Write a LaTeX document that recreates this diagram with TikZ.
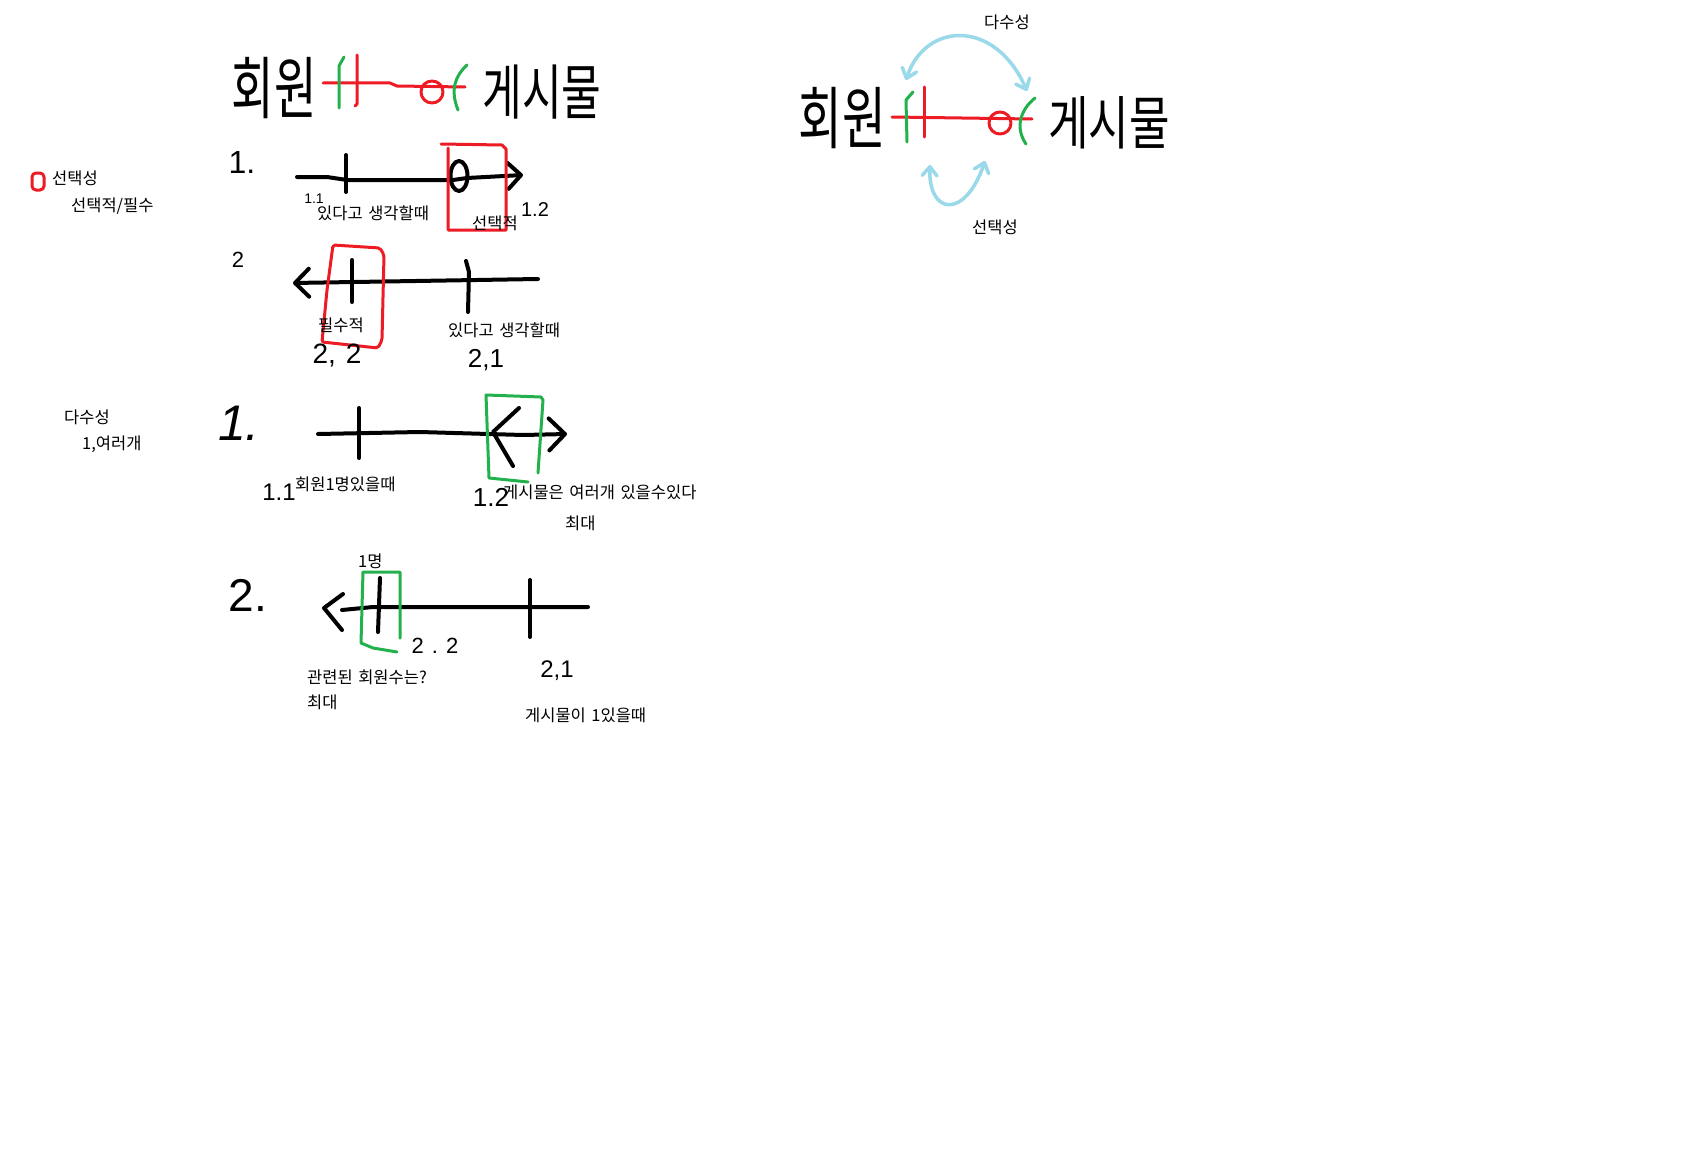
\documentclass[tikz,border=0pt]{standalone}
\usepackage{fontspec}
\usepackage{graphicx}
\usepackage{tikz}
\usetikzlibrary{positioning,arrows.meta}
\newfontfamily\kr[WordSpace=1.5]{Noto Sans CJK KR}
\newfontfamily\numfont{Liberation Sans}
\definecolor{paintred}{HTML}{ED1C24}
\definecolor{paintgreen}{HTML}{22B14C}
\definecolor{paintblue}{HTML}{99D9EA}
\newcommand{\narrow}[2]{\scalebox{#1}[1]{#2}}

\begin{document}
\begin{tikzpicture}[x=1pt, y=-1pt,
  ink/.style={line width=4pt, line cap=round, line join=round},
  redink/.style={ink, draw=paintred, line width=3pt},
  greenink/.style={ink, draw=paintgreen, line width=3pt},
  blueink/.style={ink, draw=paintblue, line width=3.5pt},
  lbl/.style={font=\kr\fontsize{16.5}{19}\selectfont, inner sep=0pt, anchor=west},
  big/.style={font=\kr\fontsize{#1}{#1}\selectfont, inner sep=0pt},
  hnum/.style={font=\numfont\fontsize{#1}{#1}\selectfont, inner sep=0pt},
  barb/.style={-{Straight Barb[length=#1, width=2*#1, round]}},
  bluebarb/.style={{Straight Barb[length=9pt, width=15pt, round]}-{Straight Barb[length=9pt, width=15pt, round]}}]
\fill[white] (0,0) rectangle (1706,1156);
\useasboundingbox (0,0) rectangle (1706,1156);

% ERD on the left
\node[big=68] (memA) at (274,88) {\narrow{0.68}{회원}};
\node[big=60] (postA) at (542,92) {\narrow{0.72}{게시물}};
\coordinate (relAa) at (323,83); \coordinate (relAb) at (465,87);
\draw[redink] (relAa) -- (390,83) -- (397,86) -- (relAb);
\draw[redink] (357,55) -- (357,104) -- (355,106);
\draw[greenink] (344,57) -- (339,66) -- (339,108);
\draw[redink] (432,92) circle[radius=11pt];
\draw[greenink] (467,65) .. controls (455,76) and (450,90) .. (458,110);

% ERD on the right
\node[big=68] (memB) at (842,118) {\narrow{0.7}{회원}};
\node[big=58] (postB) at (1109,123) {\narrow{0.76}{게시물}};
\coordinate (relBa) at (892,117); \coordinate (relBb) at (1032,119);
\draw[redink] (relBa) -- (relBb);
\draw[redink] (924,87) -- (924,137);
\draw[greenink] (913,92) -- (906,100) -- (907,142);
\draw[redink] (1000,123) circle[radius=11pt];
\draw[greenink] (1035,98) .. controls (1020,110) and (1015,128) .. (1026,144);
\coordinate (dsL) at (906,80); \coordinate (dsR) at (1027,91);
\coordinate (stL) at (930,165); \coordinate (stR) at (985,161);
\draw[blueink, bluebarb] (dsL) .. controls (925,22) and (995,18) .. (dsR);
\draw[blueink, bluebarb] (stL) .. controls (928,215) and (965,220) .. (stR);
\node[lbl, anchor=center] (dsTop) at (1007,22) {다수성};
\node[lbl, anchor=center] (stBot) at (995,227) {선택성};

% legend
\draw[redink, rounded corners=4pt] (32,173) rectangle (44,190);
\node[lbl] (legSel) at (52,178) {선택성};
\node[lbl] (legSelB) at (71,206) {선택적/필수};
\node[lbl] (legMany) at (64,417) {다수성};
\node[lbl] (legManyB) at (82,444) {1,여러개};

% optionality, case 1
\node[hnum=32] (s1) at (242,162) {1.};
\coordinate (oa) at (297,177); \coordinate (ob) at (523,175);
\draw[ink, barb=13pt] (oa) -- (327,177) -- (347,180) -- (453,180) -- (467,178) -- (ob);
\draw[ink] (346,155) -- (346,192);
\draw[ink] (459,176) ellipse[x radius=8.5pt, y radius=15pt];
\draw[redink] (441,144) -- (502,145) -- (506,149) -- (506,230) -- (448,230) -- (448,148);
\node[hnum=14] (oa1) at (314,199) {1.1};
\node[hnum=20] (oa2) at (535,210) {1.2};
\node[lbl] (oaTxt) at (317,213) {있다고 생각할때};
\node[lbl] (oaSel) at (472,223) {선택적};

% optionality, case 2
\node[hnum=22] (s2) at (238,260) {2};
\coordinate (pa) at (538,279); \coordinate (pb) at (293,283);
\draw[ink, barb=14pt] (pa) -- (pb);
\draw[ink] (352,260) -- (352,302);
\draw[ink] (466,261) -- (469,272) -- (468,312);
\draw[redink, rounded corners=2pt] (333,245) -- (380,248) -- (384,255) -- (382,340) -- (378,348) -- (322,342) -- (327,290) -- cycle;
\node[lbl] (pbMust) at (318,325) {필수적};
\node[lbl] (paTxt) at (448,330) {있다고 생각할때};
\node[hnum=28] (pb2) at (337,356) {2,\hspace{10pt}2};
\node[hnum=26] (pa1) at (486,360) {2,1};

% cardinality, case 1
\node[hnum=50] (c1) at (239,423) {\textit{1.}};
\coordinate (ma) at (318,434); \coordinate (mb) at (567,434);
\draw[ink, barb=16pt] (ma) -- (420,432) -- (ob |- 0,435) -- (mb);
\draw[ink] (359,408) -- (359,458);
\draw[ink] (519,408) -- (493,432) -- (513,466);
\draw[greenink] (538,473) -- (543,400) -- (541,397) -- (486,395) -- (489,478) -- (528,482);
\node[hnum=24] (ma1) at (279,492) {1.1};
\node[hnum=26] (mb2) at (491,497) {1.2};
\node[lbl] (maTxt) at (295,484) {회원1명있을때};
\node[lbl] (mbTxt) at (503,492) {게시물은 여러개 있을수있다};
\node[lbl] (mbMax) at (565,523) {최대};

% cardinality, case 2
\node[hnum=46] (c2) at (248,595) {2.};
\coordinate (na) at (588,607); \coordinate (nb) at (342,610);
\draw[ink] (na) -- (373,607) -- (nb);
\draw[ink] (343,594) -- (324,608) -- (342,630);
\draw[ink] (380,578) -- (378,632);
\draw[ink] (530,580) -- (530,637);
\draw[greenink] (400,638) -- (400,572) -- (363,572) -- (361,643) -- (373,648) -- (397,652);
\node[lbl] (nbOne) at (358,561) {1명};
\node[hnum=22] (nb2) at (435,646) {2\hspace{8pt}.\hspace{8pt}2};
\node[hnum=24] (na1) at (557,671) {2,1};
\node[lbl] (nbTxt) at (307,677) {관련된 회원수는?};
\node[lbl, below=10pt of nbTxt.south west, anchor=north west] (nbMax) {최대};
\node[lbl] (naTxt) at (525,715) {게시물이 1있을때};
\end{tikzpicture}
\end{document}
